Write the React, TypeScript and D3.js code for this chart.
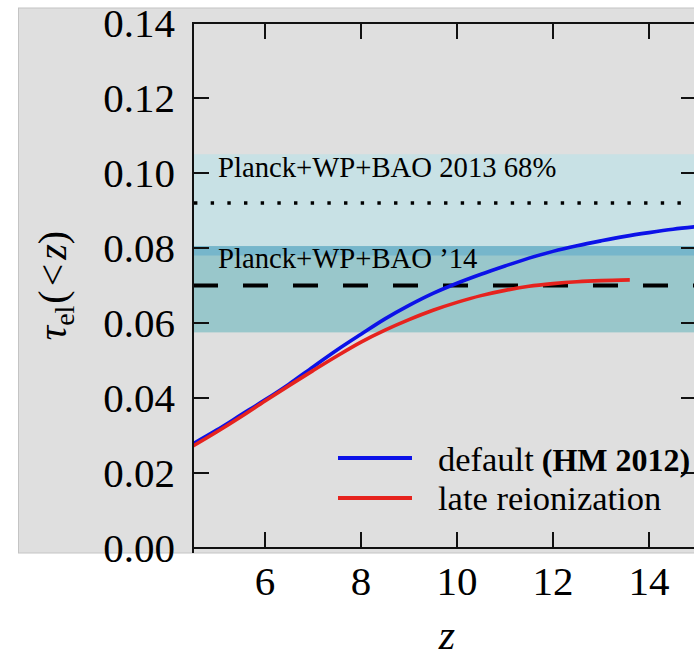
import React from "react";
import * as d3 from "d3";

const zDefault = [4.5, 5, 5.5, 6, 6.5, 7, 7.5, 8, 8.5, 9, 9.5, 10, 10.5, 11, 11.5, 12, 12.5, 13, 13.5, 14, 14.5, 15];
const tauDefault = [0.0278, 0.0315, 0.0355, 0.0395, 0.0437, 0.0483, 0.0528, 0.057, 0.0611, 0.0647, 0.0679, 0.0706, 0.073, 0.0752, 0.0773, 0.0791, 0.0806, 0.0819, 0.0831, 0.0841, 0.085, 0.0857];
const zLate = [4.5, 5, 5.5, 6, 6.5, 7, 7.5, 8, 8.5, 9, 9.5, 10, 10.5, 11, 11.5, 12, 12.5, 13, 13.6];
const tauLate = [0.0272, 0.031, 0.035, 0.0392, 0.0433, 0.0473, 0.0512, 0.0549, 0.0581, 0.0609, 0.0634, 0.0655, 0.0673, 0.0687, 0.0698, 0.0705, 0.071, 0.0713, 0.0715];

const band2013 = [0.078, 0.105];
const mean2013 = 0.092;
const band2014 = [0.0575, 0.0805];
const mean2014 = 0.07;

const xTicks = [6, 8, 10, 12, 14];
const yTicks = [0, 0.02, 0.04, 0.06, 0.08, 0.1, 0.12, 0.14];

const legendLabels = ["default", "late reionization"];

const W = 694;
const H = 659;
const left = 193;
const right = 697;
const top = 23;
const bottom = 548;
const font = "'Liberation Serif', 'Times New Roman', serif";

export default function App() {
  const x = d3.scaleLinear().domain([4.5, 15]).range([left, right]);
  const y = d3.scaleLinear().domain([0, 0.14]).range([bottom, top]);

  const line = d3
    .line<[number, number]>()
    .x((d) => x(d[0]))
    .y((d) => y(d[1]))
    .curve(d3.curveCatmullRom);

  const blue = line(zDefault.map((z, i) => [z, tauDefault[i]]));
  const red = line(zLate.map((z, i) => [z, tauLate[i]]));

  const overlap = [Math.max(band2013[0], band2014[0]), Math.min(band2013[1], band2014[1])];
  const tickLen = 16;

  return (
    <svg
      width={W}
      height={H}
      style={{ position: "absolute", left: 0, top: 0, background: "#fff" }}
      fontFamily={font}
    >
      <defs>
        <clipPath id="plot">
          <rect x={left} y={top} width={right - left} height={bottom - top} />
        </clipPath>
      </defs>
      <rect x={18.5} y={8} width={W} height={553 - 8} fill="#dfdfdf" stroke="#c4c4c4" strokeWidth={1} />

      <g clipPath="url(#plot)">
        <rect x={left} width={right - left} y={y(band2013[1])} height={y(band2013[0]) - y(band2013[1])} fill="#c8e1e5" />
        <rect x={left} width={right - left} y={y(band2014[1])} height={y(band2014[0]) - y(band2014[1])} fill="#99c7cb" />
        <rect x={left} width={right - left} y={y(overlap[1])} height={y(overlap[0]) - y(overlap[1])} fill="#76b6cb" />

        <line x1={left + 1} x2={right} y1={y(mean2013)} y2={y(mean2013)} stroke="#000" strokeWidth={3.4} strokeDasharray="3.4 13.27" />
        <line x1={left} x2={right} y1={y(mean2014)} y2={y(mean2014)} stroke="#000" strokeWidth={4} strokeDasharray="25 25" />

        <path d={blue ?? ""} fill="none" stroke="#0c12e8" strokeWidth={3.6} />
        <path d={red ?? ""} fill="none" stroke="#e6231e" strokeWidth={3.6} />
      </g>

      <text x={218} y={177} fontSize={28.7} fill="#000">Planck+WP+BAO 2013 68%</text>
      <text x={218} y={268} fontSize={28.7} fill="#000">Planck+WP+BAO ’14</text>

      {/* ticks */}
      <g stroke="#111" strokeWidth={2}>
        {yTicks.map((t) => (
          <g key={"y" + t}>
            <line x1={left} x2={left + tickLen} y1={y(t)} y2={y(t)} />
            <line x1={right - tickLen} x2={right} y1={y(t)} y2={y(t)} />
          </g>
        ))}
        {xTicks.map((t) => (
          <g key={"x" + t}>
            <line x1={x(t)} x2={x(t)} y1={bottom} y2={bottom - tickLen} />
            <line x1={x(t)} x2={x(t)} y1={top} y2={top + tickLen} />
          </g>
        ))}
      </g>
      <rect x={left} y={top} width={right - left} height={bottom - top} fill="none" stroke="#111" strokeWidth={2} />
      <line x1={left} x2={left} y1={bottom} y2={553} stroke="#111" strokeWidth={2} />

      {yTicks.map((t) => (
        <text key={"yl" + t} x={175} y={y(t) + 14} fontSize={41} textAnchor="end" fill="#000">
          {d3.format(".2f")(t)}
        </text>
      ))}
      {xTicks.map((t) => (
        <text key={"xl" + t} x={x(t)} y={595} fontSize={41} textAnchor="middle" fill="#000">
          {t}
        </text>
      ))}

      {/* legend */}
      <line x1={338} x2={412} y1={458} y2={458} stroke="#0c12e8" strokeWidth={4} />
      <line x1={338} x2={412} y1={498} y2={498} stroke="#e6231e" strokeWidth={4} />
      <text x={438} y={471} fontSize={34.5} fill="#000">
        {legendLabels[0]}
        <tspan dx={8} fontWeight="bold" fontSize={32}>(HM 2012)</tspan>
      </text>
      <text x={438} y={510} fontSize={34.5} fill="#000">{legendLabels[1]}</text>

      {/* axis labels */}
      <text x={447} y={649} fontSize={42} fontStyle="italic" textAnchor="middle" fill="#000">z</text>
      <text transform={`translate(66,${(top + bottom) / 2}) rotate(-90)`} textAnchor="middle" fontSize={40} fill="#000">
        <tspan fontStyle="italic">τ</tspan>
        <tspan fontSize={28} dy={8}>el</tspan>
        <tspan dy={-8} dx={2}>(</tspan>
        <tspan dx={4}>&lt;</tspan>
        <tspan dx={4} fontStyle="italic">z</tspan>
        <tspan>)</tspan>
      </text>
    </svg>
  );
}
